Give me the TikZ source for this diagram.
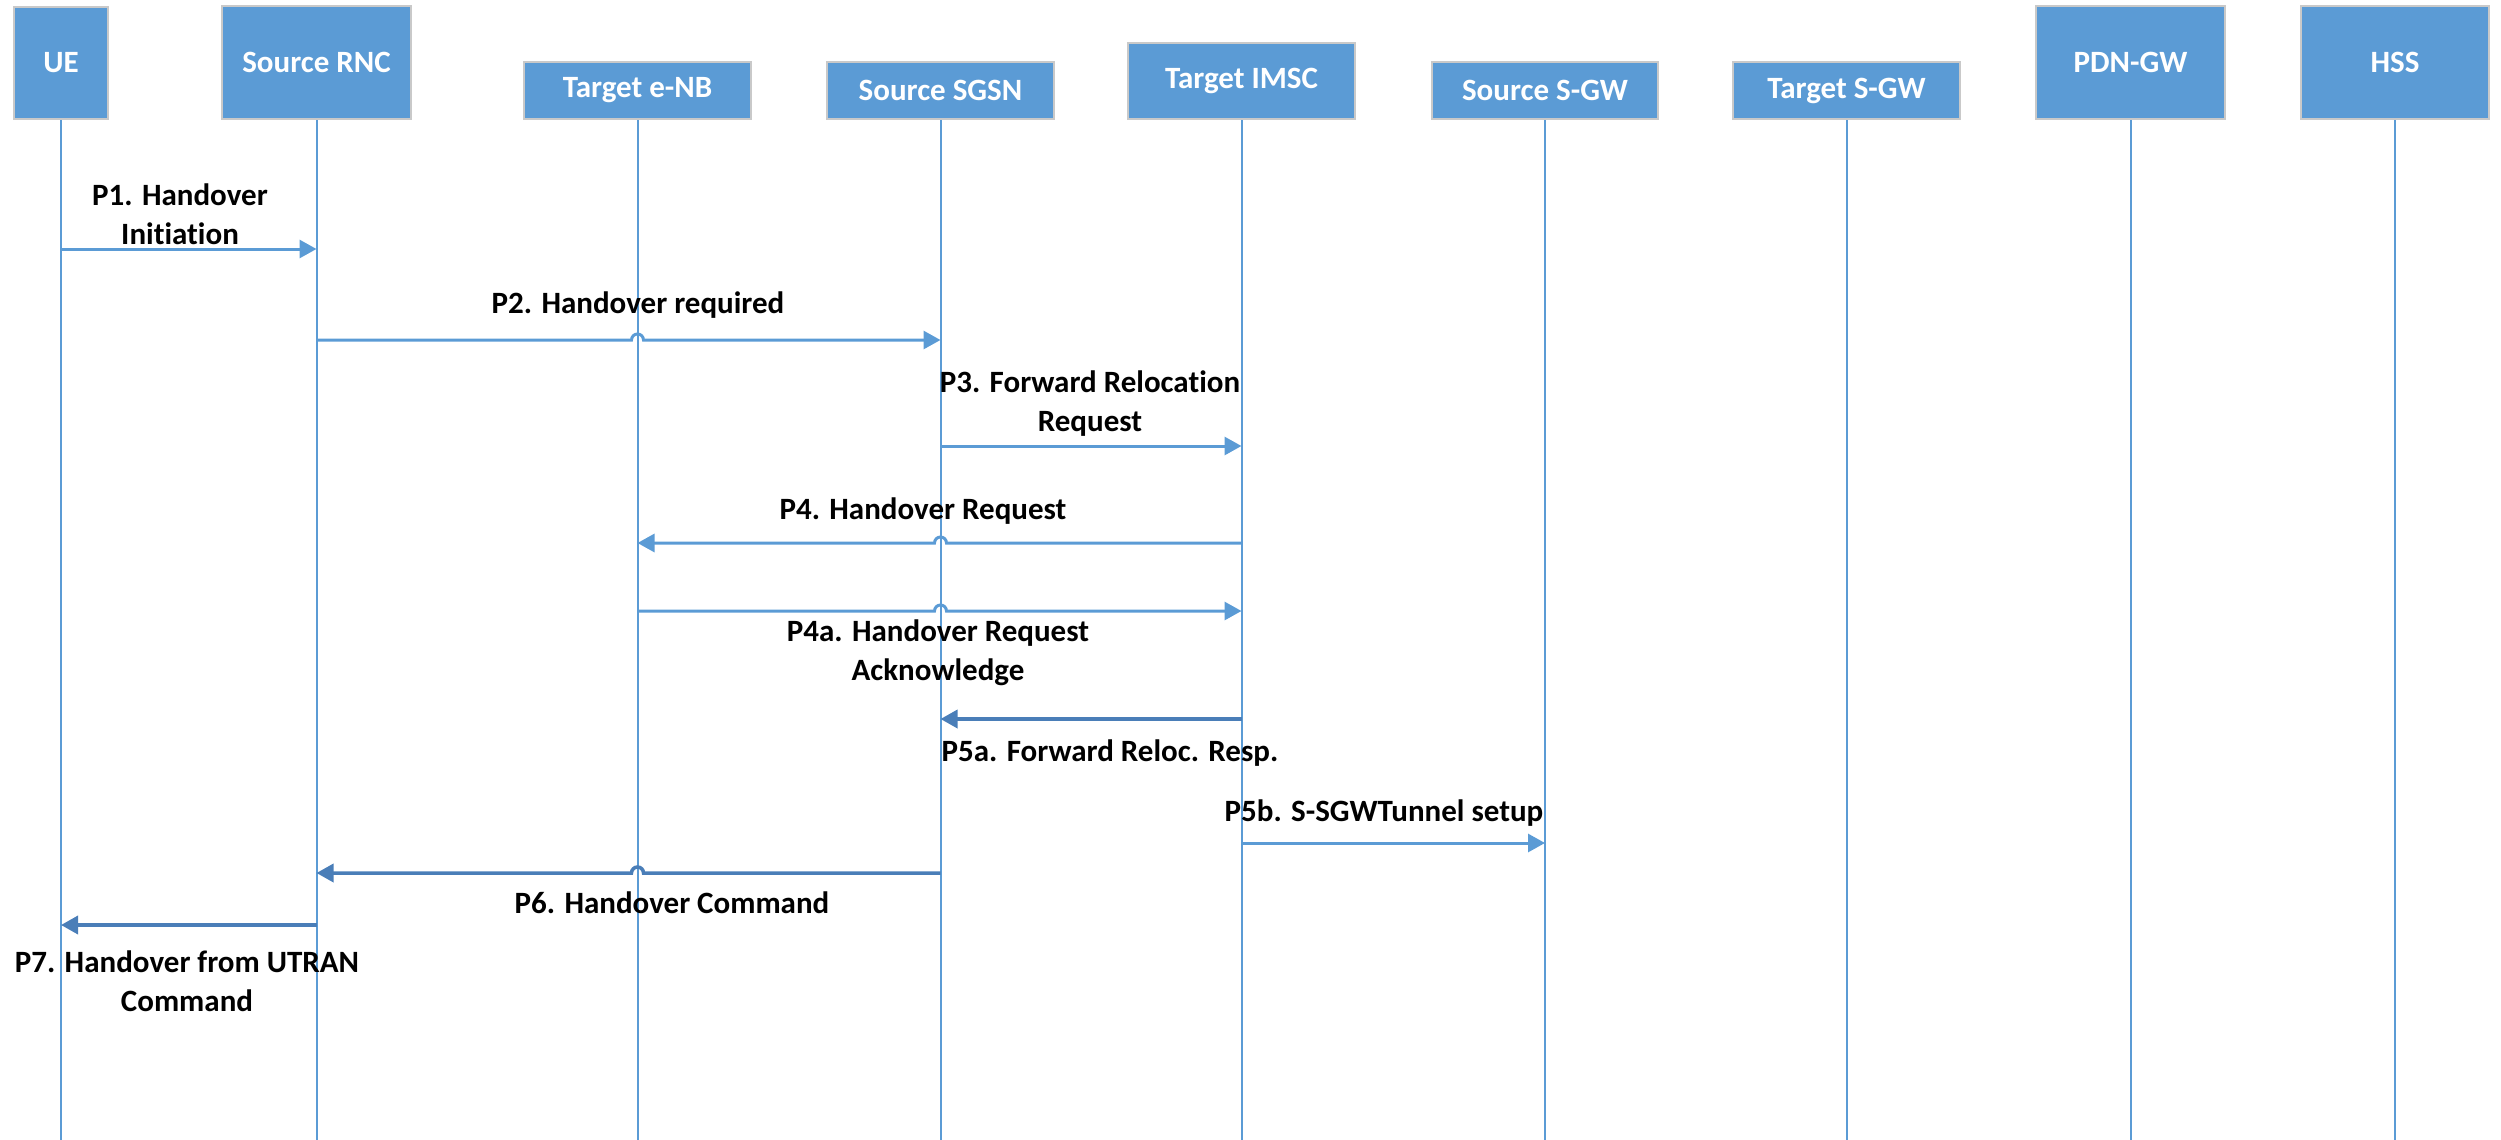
\documentclass[tikz,border=0pt]{standalone}
\usepackage{fontspec}
\setmainfont[Ligatures=NoCommon]{Carlito}
\usetikzlibrary{arrows.meta,calc}
\definecolor{boxblue}{HTML}{5B9BD5}
\definecolor{boxline}{HTML}{C9C9C9}
\definecolor{darkmsg}{HTML}{4A7EB8}
\tikzset{
  actor/.style={draw=boxline, line width=2pt, fill=boxblue, text=white, inner sep=0pt,
    font=\bfseries\fontsize{31}{38}\selectfont},
  life/.style={draw=boxblue, line width=2pt},
  msg/.style={draw=boxblue, line width=3pt, -{Triangle[length=17pt,width=18pt]}},
  dmsg/.style={draw=darkmsg, line width=3.5pt, -{Triangle[length=17pt,width=18pt]}},
  lbl/.style={align=center, inner sep=0pt, font=\bfseries\fontsize{31}{39}\selectfont}
}
\begin{document}
\begin{tikzpicture}[x=1pt,y=-1pt]
\useasboundingbox (0,0) rectangle (2501,1140);
% actors
\node[actor, minimum width=94pt, minimum height=112pt] (ue) at (61,63) {UE};
\node[actor, minimum width=189pt, minimum height=113pt] (rnc) at (316.5,62.5) {Source RNC};
\node[actor, minimum width=227pt, minimum height=57pt] (enb) at (637.5,90.5) {Target e-NB};
\node[actor, minimum width=227pt, minimum height=57pt] (sgsn) at (940.5,90.5) {Source SGSN};
\node[actor, minimum width=227pt, minimum height=76pt] (imsc) at (1241.5,81) {Target IMSC};
\node[actor, minimum width=226pt, minimum height=57pt] (sgw) at (1545,90.5) {Source S-GW};
\node[actor, minimum width=227pt, minimum height=57pt] (tsgw) at (1846.5,90.5) {Target S-GW};
\node[actor, minimum width=189pt, minimum height=113pt] (pdn) at (2130.5,62.5) {PDN-GW};
\node[actor, minimum width=188pt, minimum height=113pt] (hss) at (2395,62.5) {HSS};
% lifelines
\foreach \n in {ue,rnc,enb,sgsn,imsc,sgw,tsgw,pdn,hss}{
  \draw[life] (\n.south) -- (\n.south |- 0,1140);
}
% messages
\draw[msg] (ue |- 0,249) -- (rnc |- 0,249);
\node[lbl] (l1) at (180,214) {P1. Handover\\Initiation};

\draw[msg] (rnc |- 0,340) -- ($(enb |- 0,340)+(-6,0)$) arc[start angle=180,end angle=360,radius=6] -- (sgsn |- 0,340);
\node[lbl] (l2) at (638,305) {P2. Handover required};

\draw[msg] (sgsn |- 0,446) -- (imsc |- 0,446);
\node[lbl] (l3) at (1090,404) {P3. Forward Relocation\\Request};

\draw[msg] (imsc |- 0,543) -- ($(sgsn |- 0,543)+(6,0)$) arc[start angle=0,end angle=-180,radius=6] -- (enb |- 0,543);
\node[lbl] (l4) at (923,511) {P4. Handover Request};

\draw[msg] (enb |- 0,611) -- ($(sgsn |- 0,611)+(-6,0)$) arc[start angle=180,end angle=360,radius=6] -- (imsc |- 0,611);
\node[lbl] (l4a) at (938,653) {P4a. Handover Request\\Acknowledge};

\draw[dmsg] (imsc |- 0,719) -- (sgsn |- 0,719);
\node[lbl] (l5a) at (1110,753) {P5a. Forward Reloc. Resp.};

\draw[msg] (imsc |- 0,843) -- (sgw |- 0,843);
\node[lbl] (l5b) at (1384,813) {P5b. S-SGWTunnel setup};

\draw[dmsg] (sgsn |- 0,873) -- ($(enb |- 0,873)+(6,0)$) arc[start angle=0,end angle=-180,radius=6] -- (rnc |- 0,873);
\node[lbl] (l6) at (672,903) {P6. Handover Command};

\draw[dmsg] (rnc |- 0,925) -- (ue |- 0,925);
\node[lbl] (l7) at (187,981) {P7. Handover from UTRAN\\Command};
\end{tikzpicture}
\end{document}
